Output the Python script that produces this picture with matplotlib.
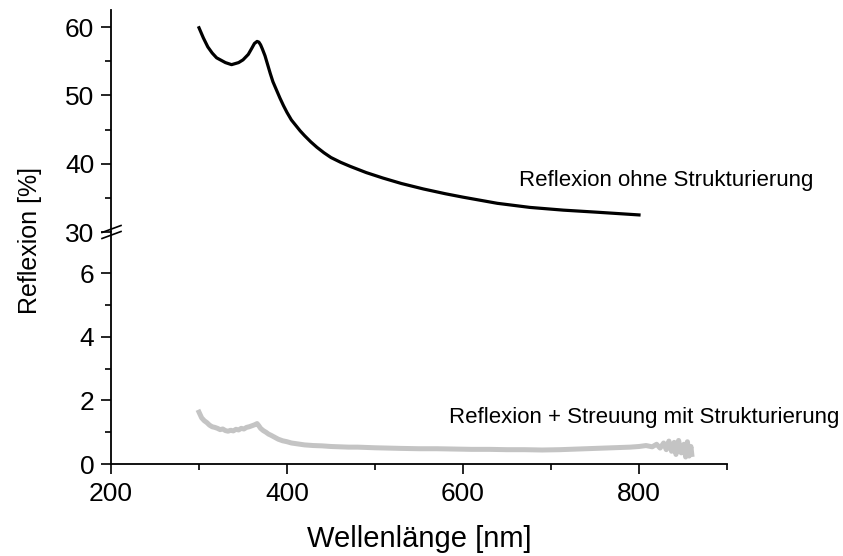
import matplotlib.pyplot as plt
from matplotlib.lines import Line2D

plt.rcParams['font.family'] = ['Liberation Sans', 'DejaVu Sans']

# Reflexion ohne Strukturierung (black)
wl_black = [300, 305, 310, 315, 320, 330, 337, 345, 350, 356, 360, 363, 366, 368,
            370, 372, 375, 378, 381, 384, 388, 392, 396, 400, 405, 410, 415, 420,
            427, 434, 442, 450, 461, 472, 490, 509, 530, 555, 580, 600, 639, 676,
            714, 752, 800]
r_black = [59.9, 58.4, 57.1, 56.2, 55.5, 54.8, 54.5, 54.8, 55.2, 56.0, 56.9, 57.6, 57.9, 57.8,
           57.4, 56.8, 55.8, 54.5, 53.2, 52.0, 50.8, 49.6, 48.5, 47.5, 46.4, 45.6, 44.8, 44.1,
           43.2, 42.4, 41.6, 40.9, 40.2, 39.6, 38.7, 37.9, 37.1, 36.3, 35.6, 35.1, 34.2, 33.6,
           33.2, 32.9, 32.5]

# Reflexion + Streuung mit Strukturierung (grey)
wl_grey = [300, 303, 306, 309, 312, 315, 318, 321, 324, 327, 330, 333, 336, 339,
           342, 345, 348, 351, 354, 357, 360, 363, 366, 368, 370, 373, 376, 379,
           382, 386, 390, 395, 400, 405, 410, 415, 420, 430, 440, 450, 460, 470,
           480, 490, 500, 515, 530, 550, 570, 590, 610, 630, 650, 670, 690, 710,
           730, 750, 770, 790, 800, 808, 815, 820, 824, 828, 831, 834, 837, 840,
           842, 845, 848, 851, 853, 855, 857, 859, 860]
r_grey = [1.63, 1.45, 1.36, 1.30, 1.22, 1.17, 1.15, 1.12, 1.08, 1.10, 1.05, 1.03, 1.06, 1.04,
          1.09, 1.07, 1.12, 1.10, 1.15, 1.17, 1.20, 1.23, 1.27, 1.20, 1.12, 1.05, 1.00, 0.94,
          0.90, 0.84, 0.78, 0.73, 0.70, 0.66, 0.64, 0.62, 0.60, 0.58, 0.57, 0.55, 0.54, 0.53,
          0.53, 0.52, 0.51, 0.50, 0.49, 0.48, 0.48, 0.47, 0.46, 0.46, 0.45, 0.45, 0.44, 0.45,
          0.47, 0.49, 0.51, 0.53, 0.55, 0.58, 0.54, 0.62, 0.50, 0.66, 0.45, 0.72, 0.40, 0.68,
          0.30, 0.74, 0.35, 0.62, 0.22, 0.70, 0.25, 0.55, 0.30]

x_ticks = [200, 400, 600, 800]
y_ticks_top = [30, 40, 50, 60]
y_ticks_bot = [0, 2, 4, 6]

W, H = 843, 556
fig = plt.figure(figsize=(W / 100, H / 100), dpi=100)
left, right = 111 / W, 727 / W
ax_top = fig.add_axes([left, (H - 232) / H, right - left, 222 / H])
ax_bot = fig.add_axes([left, (H - 464) / H, right - left, 232 / H])

ax_top.plot(wl_black, r_black, color='black', lw=2.3)
ax_bot.plot(wl_grey, r_grey, color='#c4c4c4', lw=3.6)

for ax in (ax_top, ax_bot):
    ax.set_xlim(200, 900)
    for s in ('top', 'right'):
        ax.spines[s].set_visible(False)
    ax.spines['left'].set_linewidth(1.3)
    ax.spines['bottom'].set_linewidth(1.3)
    ax.tick_params(which='major', direction='out', length=7, width=1.2, labelsize=19, pad=5)
    ax.tick_params(which='minor', direction='out', length=4, width=1.2)

ax_top.set_ylim(30, 62.5)
ax_top.set_yticks(y_ticks_top)
ax_top.set_yticks([35, 45, 55], minor=True)
ax_top.spines['bottom'].set_visible(False)
ax_top.xaxis.set_visible(False)

ax_bot.set_ylim(0, 7.29)
ax_bot.set_yticks(y_ticks_bot)
ax_bot.set_yticks([1, 3, 5], minor=True)
ax_bot.set_xticks(x_ticks)
ax_bot.set_xticks([300, 500, 700, 900], minor=True)
ax_bot.tick_params(axis='x', which='major', pad=6)

# axis break marks
for dy in (-3, 3):
    y0 = (H - 232 - dy) / H
    fig.add_artist(Line2D([102 / W, 121 / W], [y0 - 3.5 / H, y0 + 3.5 / H],
                          color='black', lw=1.2, transform=fig.transFigure))

ax_top.text(663.6, 37.6, 'Reflexion ohne Strukturierung', fontsize=16, va='center')
ax_bot.text(584, 1.45, 'Reflexion + Streuung mit Strukturierung', fontsize=16, va='center')

fig.text(30 / W, 1 - 240 / H, 'Reflexion [%]', rotation=90, fontsize=18,
         ha='center', va='center')
fig.text(419 / W, 1 - 539 / H, 'Wellenlänge [nm]', fontsize=21,
         ha='center', va='center')

fig.savefig('out.png', dpi=100)
